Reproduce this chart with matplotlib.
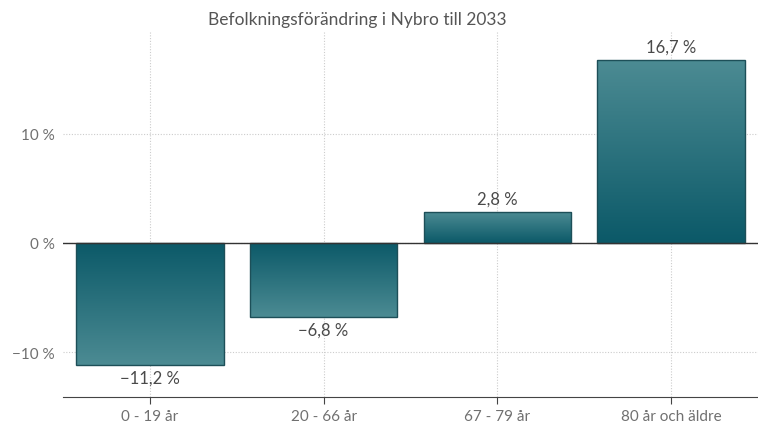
import matplotlib
matplotlib.use("Agg")
import matplotlib.pyplot as plt
import numpy as np
from matplotlib.colors import LinearSegmentedColormap

categories = ["0 - 19 år", "20 - 66 år", "67 - 79 år", "80 år och äldre"]
values = [-11.2, -6.8, 2.8, 16.7]
labels = ["\u221211,2 %", "\u22126,8 %", "2,8 %", "16,7 %"]
yticks = [-10, 0, 10]
yticklabels = ["\u221210 %", "0 %", "10 %"]
title = "Befolkningsförändring i Nybro till 2033"

plt.rcParams['font.family'] = ['Lato', 'DejaVu Sans']

fig = plt.figure(figsize=(7.58, 4.27), dpi=100)
ax = fig.add_axes([63/758, 1 - 398/427, (758 - 63)/758, (398 - 32)/427])

x = np.arange(len(categories))
bars = ax.bar(x, values, width=0.85, color="none", edgecolor="#1d4f58", linewidth=1.0, zorder=3)

dark = "#0b5968"
light = "#4c8b93"
cmap = LinearSegmentedColormap.from_list("g", [dark, light])
grad = np.linspace(0, 1, 256).reshape(-1, 1)
for b, v in zip(bars, values):
    x0 = b.get_x(); w = b.get_width()
    # dark at zero line, lighter toward the bar's end
    im = ax.imshow(grad, cmap=cmap, aspect="auto", origin="lower",
                   extent=(x0, x0 + w, 0, v), zorder=2)
    im.set_clip_path(b)

for xi, v, lab in zip(x, values, labels):
    if v >= 0:
        ax.text(xi, v + 0.5, lab, ha="center", va="bottom", fontsize=12, color="#4a4a4a")
    else:
        ax.text(xi, v - 0.4, lab, ha="center", va="top", fontsize=12, color="#4a4a4a")

ax.set_xlim(-0.5, 3.5)
ax.set_ylim(-14.1, 19.4)
ax.axhline(0, color="#333333", linewidth=1.0, zorder=4)
ax.set_yticks(yticks)
ax.set_yticklabels(yticklabels)
ax.set_xticks(x)
ax.set_xticklabels(categories)
ax.grid(True, linestyle=(0, (1, 1.5)), color="#cccccc", linewidth=0.8, zorder=0)
for s in ["left", "right", "top"]:
    ax.spines[s].set_visible(False)
ax.spines["bottom"].set_color("#444444")
ax.tick_params(axis="y", length=0, labelsize=11, labelcolor="#707070", pad=6)
ax.tick_params(axis="x", length=5, color="#444444", labelsize=11, labelcolor="#707070", pad=4)

fig.text(357/758, 1 - 20/427, title, ha="center", va="center", fontsize=12.5, color="#555555")

fig.savefig("out.png", dpi=100)
